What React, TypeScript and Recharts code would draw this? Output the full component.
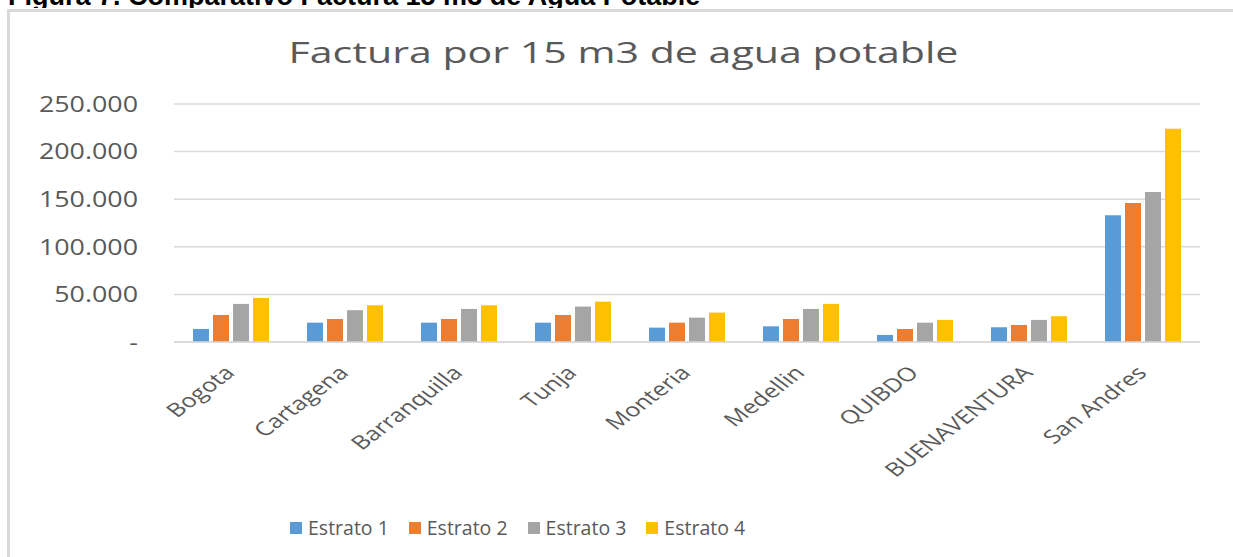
import React from 'react';
import { BarChart, Bar, XAxis, YAxis, CartesianGrid, Legend } from 'recharts';

const categories = ['Bogota', 'Cartagena', 'Barranquilla', 'Tunja', 'Monteria', 'Medellin', 'QUIBDO', 'BUENAVENTURA', 'San Andres'];
const estrato1 = [13700, 20300, 20300, 20300, 15100, 16500, 7400, 15500, 133100];
const estrato2 = [28400, 24200, 24200, 28400, 20300, 24200, 13700, 17900, 146100];
const estrato3 = [40000, 33400, 34700, 37200, 25600, 34700, 20300, 23200, 157600];
const estrato4 = [46300, 38600, 38600, 42400, 30900, 40000, 23200, 27100, 224000];
const yTicks = [0, 50000, 100000, 150000, 200000, 250000];

const data = categories.map((name, i) => ({
  name,
  e1: estrato1[i],
  e2: estrato2[i],
  e3: estrato3[i],
  e4: estrato4[i],
}));

const textColor = '#595959';
const gridColor = '#d9d9d9';
const font = '"Open Sans", "Noto Sans", sans-serif';
// the source image is stretched sideways, so the text is too
const stretch = 1.33;

const fmt = (v: number) => (v === 0 ? '-' : String(v).replace(/\B(?=(\d{3})+(?!\d))/g, '.'));

const CityTick = (props: any) => {
  const { x, y, payload } = props;
  const ax = x + 5;
  const ay = y + 24;
  return (
    <text
      x={ax}
      y={ay}
      textAnchor="end"
      transform={`translate(${ax} ${ay}) scale(${stretch} 1) rotate(-45) translate(${-ax} ${-ay})`}
      fill={textColor}
      fontSize={19}
      fontFamily={font}
    >
      {payload.value}
    </text>
  );
};

const ValueTick = (props: any) => {
  const { x, y, payload } = props;
  return (
    <text
      x={x}
      y={y}
      dy="0.355em"
      textAnchor="end"
      transform={`translate(${x} ${y}) scale(1.22 1) translate(${-x} ${-y})`}
      fill={textColor}
      fontSize={22}
      fontFamily={font}
    >
      {fmt(payload.value)}
    </text>
  );
};

const LegendRow = (props: any) => (
  <div style={{ display: 'flex', alignItems: 'center', gap: 20, fontFamily: font, fontSize: 19.5, color: textColor, lineHeight: '26px' }}>
    {props.payload.map((entry: any) => (
      <div key={entry.value} style={{ display: 'flex', alignItems: 'center' }}>
        <span style={{ width: 12, height: 12, background: entry.color, marginRight: 6, display: 'inline-block' }} />
        <span>{entry.value}</span>
      </div>
    ))}
  </div>
);

export default function App() {
  return (
    <div style={{ position: 'absolute', left: 0, top: 0, width: 1233, height: 557, background: '#fff', overflow: 'hidden', fontFamily: font }}>
      {/* figure caption, cut off at the top of the screenshot */}
      <div style={{ position: 'absolute', left: 0, top: 0, width: 1233, height: 8, overflow: 'hidden' }}>
        <div style={{ position: 'absolute', left: 8, top: -19, whiteSpace: 'nowrap', fontFamily: '"Liberation Sans", Arial, sans-serif', fontWeight: 'bold', fontSize: 27, color: '#000' }}>
          Figura 7. Comparativo Factura 15 m3 de Agua Potable
        </div>
      </div>
      <div style={{ position: 'absolute', left: 7, top: 9, width: 1300, height: 600, borderLeft: `3px solid ${gridColor}`, borderTop: `3px solid ${gridColor}` }} />
      <div style={{ position: 'absolute', left: 0, top: 31, width: 1246, textAlign: 'center', fontSize: 30, color: textColor, whiteSpace: 'nowrap' }}>
        <span style={{ display: 'inline-block', transform: 'scaleX(1.37)' }}>Factura por 15 m3 de agua potable</span>
      </div>
      <div style={{ position: 'absolute', left: 0, top: 0 }}>
        <BarChart width={1233} height={557} data={data} margin={{ top: 104, right: 33, bottom: 185, left: 0 }} barCategoryGap={19} barGap={4}>
          <CartesianGrid horizontal vertical={false} stroke={gridColor} strokeWidth={1.5} />
          <XAxis dataKey="name" interval={0} height={30} axisLine={{ stroke: gridColor, strokeWidth: 1.5 }} tickLine={false} tick={<CityTick />} />
          <YAxis
            width={174}
            domain={[0, 250000]}
            ticks={yTicks}
            axisLine={false}
            tickLine={false}
            tickMargin={30}
            tick={<ValueTick />}
          />
          <Legend
            layout="horizontal"
            verticalAlign="middle"
            align="center"
            content={<LegendRow />}
            wrapperStyle={{ left: 290, top: 515, width: 500 }}
          />
          <Bar dataKey="e1" name="Estrato 1" fill="#5b9bd5" isAnimationActive={false} />
          <Bar dataKey="e2" name="Estrato 2" fill="#ed7d31" isAnimationActive={false} />
          <Bar dataKey="e3" name="Estrato 3" fill="#a5a5a5" isAnimationActive={false} />
          <Bar dataKey="e4" name="Estrato 4" fill="#ffc000" isAnimationActive={false} />
        </BarChart>
      </div>
    </div>
  );
}
